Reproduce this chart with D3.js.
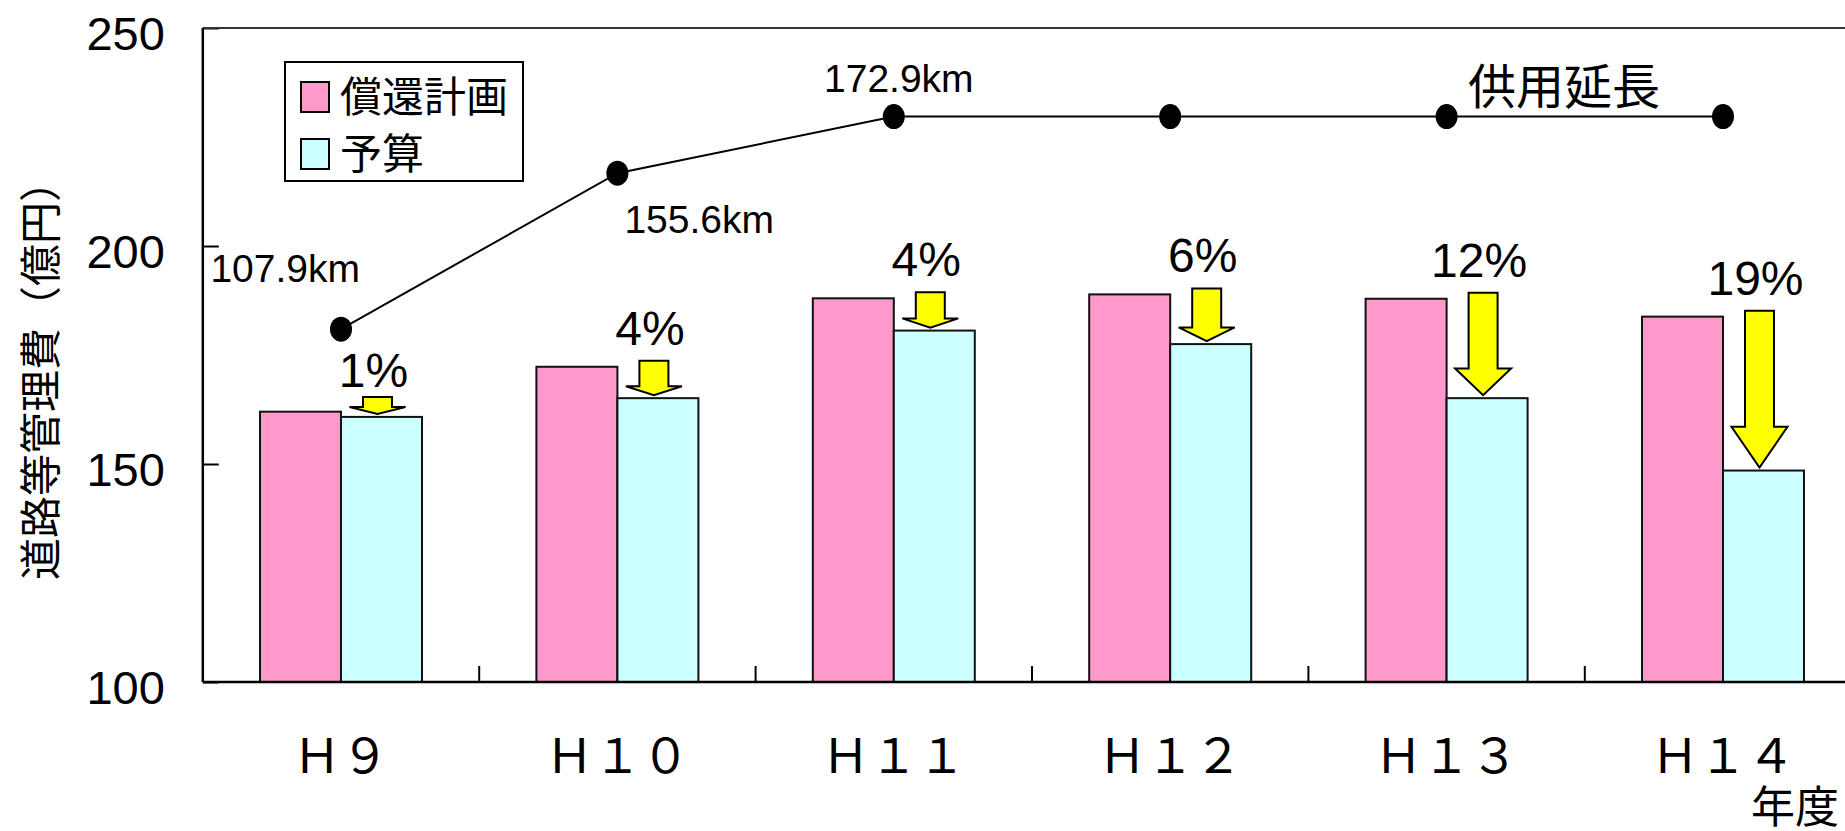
<!DOCTYPE html>
<html>
<head>
<meta charset="utf-8">
<script src="https://cdn.jsdelivr.net/npm/d3@7"></script>
<style>
  html, body { margin: 0; padding: 0; background: #fff; }
  svg { display: block; }
</style>
</head>
<body>
<svg id="chart" width="1845" height="831"></svg>
<script>
// 年度別：償還計画と予算（億円）、供用延長（km）
const years = ["Ｈ９", "Ｈ１０", "Ｈ１１", "Ｈ１２", "Ｈ１３", "Ｈ１４"];
const seriesNames = ["償還計画", "予算"];
const planValues = [162.0, 172.3, 188.0, 188.9, 187.9, 183.8];
const budgetValues = [160.8, 165.1, 180.6, 177.5, 165.1, 148.5];
const cutLabels = ["1%", "4%", "4%", "6%", "12%", "19%"];
const lengthKm = [107.9, 155.6, 172.9, 172.9, 172.9, 172.9];
const lengthLabels = ["107.9km", "155.6km", "172.9km", "", "", ""];
const lineName = "供用延長";
const yTicks = [100, 150, 200, 250];
const yTitle = "道路等管理費（億円）";
const xTitle = "年度";

const colors = { plan: "#FF99CC", budget: "#CCFFFF", arrow: "#FFFF00" };
const numFont = "'Liberation Sans', Arial, sans-serif";
const jpFont = "'Noto Sans CJK JP', 'Noto Sans', sans-serif";

const svg = d3.select("#chart");
const plotLeft = 202.8, plotTop = 28, plotBottom = 682;
const step = 276.4;

const x = d3.scaleBand().domain(years).range([plotLeft, plotLeft + step * years.length]).padding(0);
const pairWidth = 162;
const xs = d3.scaleBand().domain(["plan", "budget"]).range([0, pairWidth]).padding(0);
const pairStart = c => x(c) + (x.bandwidth() - pairWidth) / 2;
const y = d3.scaleLinear().domain([100, 250]).range([plotBottom, plotTop]);
const y2 = d3.scaleLinear().domain([0, 200]).range([plotBottom, plotTop]);

const rows = years.map((c, i) => ({
  year: c, plan: planValues[i], budget: budgetValues[i],
  cut: cutLabels[i], km: lengthKm[i], kmLabel: lengthLabels[i]
}));

// bars
const g = svg.append("g");
rows.forEach(r => {
  ["plan", "budget"].forEach(k => {
    g.append("rect")
      .attr("x", pairStart(r.year) + xs(k))
      .attr("y", y(r[k]))
      .attr("width", xs.bandwidth())
      .attr("height", y(100) - y(r[k]))
      .attr("fill", colors[k])
      .attr("stroke", "#111")
      .attr("stroke-width", 2);
  });
});

// reduction arrows from plan level down to budget level
rows.forEach(r => {
  const cx = pairStart(r.year) + xs("budget") + xs.bandwidth() / 2 - 4;
  const tip = y(r.budget) - 3;
  const topY = Math.min(y(r.plan) - 6, tip - 17);
  const head = Math.max(7, 0.26 * (tip - topY));
  const hw = 28, sw = 14.5;
  const pts = [
    [cx - sw, topY], [cx + sw, topY], [cx + sw, tip - head], [cx + hw, tip - head],
    [cx, tip], [cx - hw, tip - head], [cx - sw, tip - head]
  ];
  g.append("path")
    .attr("d", d3.line()(pts) + "Z")
    .attr("fill", colors.arrow)
    .attr("stroke", "#000")
    .attr("stroke-width", 2)
    .attr("stroke-linejoin", "miter");
  g.append("text")
    .attr("x", cx - 4)
    .attr("y", Math.min(topY - 10, y(r.plan) - 22))
    .attr("text-anchor", "middle")
    .attr("font-family", numFont)
    .attr("font-size", 48)
    .attr("fill", "#000")
    .text(r.cut);
});

// length line
const cxOf = c => x(c) + x.bandwidth() / 2;
g.append("path")
  .datum(rows)
  .attr("d", d3.line().x(d => cxOf(d.year)).y(d => y2(d.km)))
  .attr("fill", "none")
  .attr("stroke", "#000")
  .attr("stroke-width", 2);
g.selectAll(".pt").data(rows).enter().append("ellipse")
  .attr("cx", d => cxOf(d.year))
  .attr("cy", d => y2(d.km))
  .attr("rx", 11)
  .attr("ry", 12.5)
  .attr("fill", "#000");

// km value labels placed around their points
const kmPlacement = [
  { anchor: "end", dx: 19, dy: -47 },
  { anchor: "start", dx: 7, dy: 60 },
  { anchor: "middle", dx: 5, dy: -25 }
];
rows.forEach((r, i) => {
  if (!r.kmLabel) return;
  const p = kmPlacement[i];
  g.append("text")
    .attr("x", cxOf(r.year) + p.dx)
    .attr("y", y2(r.km) + p.dy)
    .attr("text-anchor", p.anchor)
    .attr("font-family", numFont)
    .attr("font-size", 39)
    .attr("fill", "#000")
    .text(r.kmLabel);
});

// series name for the line
g.append("text")
  .attr("x", 1468)
  .attr("y", 104)
  .attr("font-family", jpFont)
  .attr("font-size", 48)
  .attr("fill", "#000")
  .text(lineName);

// axes
const yAxis = d3.axisLeft(y).tickValues(yTicks).tickSize(-16).tickPadding(38);
const ya = svg.append("g").attr("transform", `translate(${plotLeft},0)`).call(yAxis);
ya.select(".domain").remove();
ya.selectAll(".tick line").attr("stroke", "#000").attr("stroke-width", 2);
ya.selectAll(".tick text")
  .attr("font-family", numFont)
  .attr("font-size", 47)
  .attr("fill", "#000")
  .attr("dy", "0.45em");

const xAxis = d3.axisBottom(x).tickSize(0).tickPadding(0);
const xa = svg.append("g").attr("transform", `translate(0,${plotBottom})`).call(xAxis);
xa.select(".domain").remove();
xa.selectAll(".tick text")
  .attr("y", 91)
  .attr("dy", null)
  .attr("font-family", jpFont)
  .attr("font-size", 48)
  .attr("fill", "#000");

// category separator ticks
svg.append("g").selectAll("line").data(years.slice(1)).enter().append("line")
  .attr("x1", d => x(d)).attr("x2", d => x(d))
  .attr("y1", plotBottom).attr("y2", plotBottom - 16)
  .attr("stroke", "#000").attr("stroke-width", 2);

// plot frame
svg.append("line").attr("x1", plotLeft).attr("x2", 1845).attr("y1", plotTop).attr("y2", plotTop)
  .attr("stroke", "#333").attr("stroke-width", 2);
svg.append("line").attr("x1", plotLeft).attr("x2", plotLeft).attr("y1", plotTop).attr("y2", plotBottom)
  .attr("stroke", "#000").attr("stroke-width", 2.5);
svg.append("line").attr("x1", plotLeft).attr("x2", 1845).attr("y1", plotBottom).attr("y2", plotBottom)
  .attr("stroke", "#000").attr("stroke-width", 2.5);

// axis titles
svg.append("text")
  .attr("transform", "translate(37,370) rotate(-90)")
  .attr("text-anchor", "middle")
  .attr("dominant-baseline", "central")
  .attr("font-family", jpFont)
  .attr("font-size", 42)
  .attr("fill", "#000")
  .text(yTitle);
svg.append("text")
  .attr("x", 1751).attr("y", 823)
  .attr("font-family", jpFont)
  .attr("font-size", 44)
  .attr("fill", "#000")
  .text(xTitle);

// legend
const lg = svg.append("g");
lg.append("rect").attr("x", 285).attr("y", 62).attr("width", 238).attr("height", 119)
  .attr("fill", "#fff").attr("stroke", "#000").attr("stroke-width", 2);
const legendKeys = ["plan", "budget"];
seriesNames.forEach((name, i) => {
  const cy = 97 + i * 57;
  lg.append("rect").attr("x", 301).attr("y", cy - 15).attr("width", 28).attr("height", 30)
    .attr("fill", colors[legendKeys[i]]).attr("stroke", "#000").attr("stroke-width", 2);
  lg.append("text").attr("x", 340).attr("y", cy + 15)
    .attr("font-family", jpFont).attr("font-size", 42).attr("fill", "#000")
    .text(name);
});
</script>
</body>
</html>
